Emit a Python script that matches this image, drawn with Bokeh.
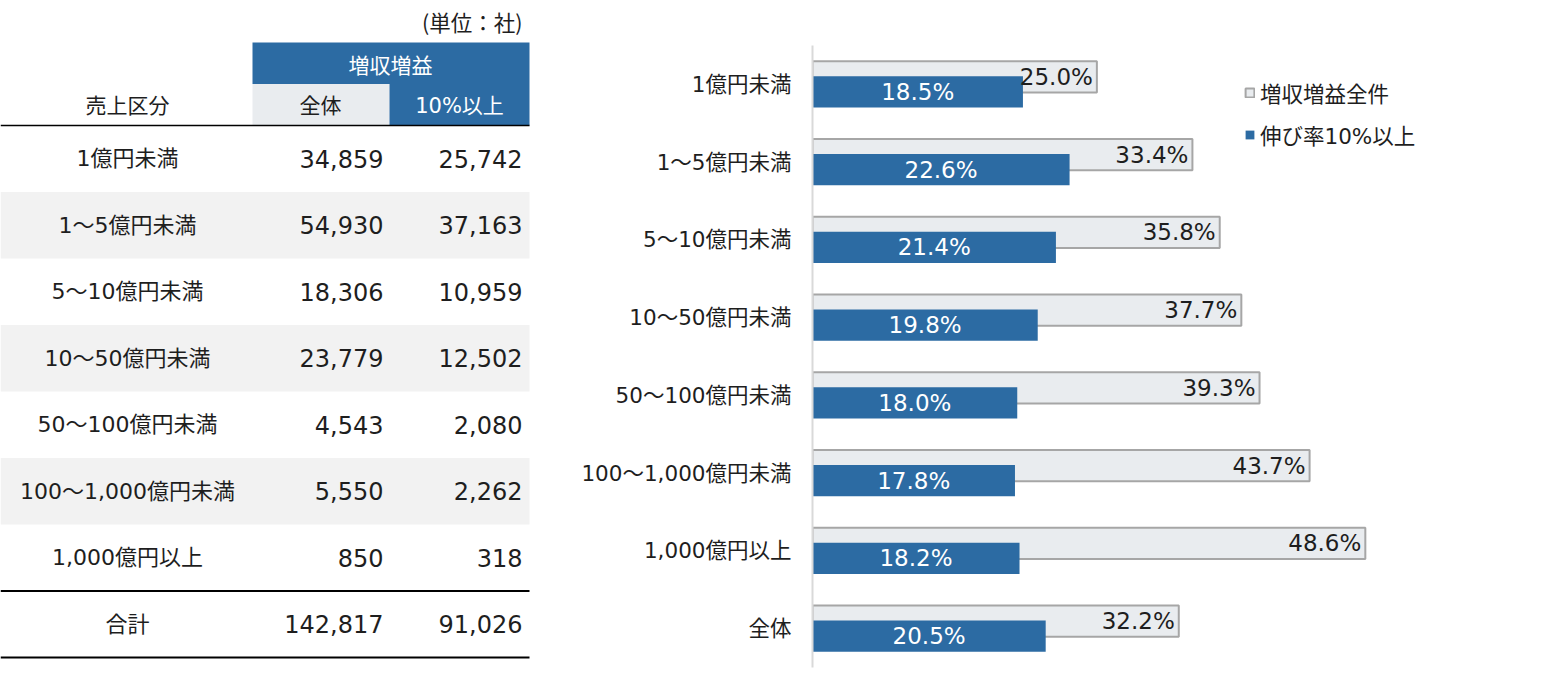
from bokeh.plotting import figure
from bokeh.models import ColumnDataSource, Range1d, Legend, LegendItem, FixedTicker
from bokeh.transform import dodge
from bokeh.layouts import row
from bokeh.embed import file_html
from bokeh.resources import INLINE
from bokeh.core.properties import value

CJK = "Noto Sans CJK JP"
MIX = "DejaVu Sans, Noto Sans CJK JP"
NUM = "DejaVu Sans"
BLUE = "#2c6ba3"
LIGHT = "#e9ecef"
TXT = "#1e1e1e"

# ---------------- data ----------------
categories = ["1億円未満", "1～5億円未満", "5～10億円未満", "10～50億円未満",
              "50～100億円未満", "100～1,000億円未満", "1,000億円以上"]
total_label = "合計"
count_all = [34859, 54930, 18306, 23779, 4543, 5550, 850]
count_10 = [25742, 37163, 10959, 12502, 2080, 2262, 318]
total_all = 142817
total_10 = 91026

bar_categories = categories + ["全体"]
rate_all = [25.0, 33.4, 35.8, 37.7, 39.3, 43.7, 48.6, 32.2]
rate_10 = [18.5, 22.6, 21.4, 19.8, 18.0, 17.8, 18.2, 20.5]

series_names = ["増収増益全件", "伸び率10%以上"]
unit_label = "(単位：社)"
header_top = "増収増益"
header_cols = ["売上区分", "全体", "10%以上"]

FIG_H = 683

# ---------------- table ----------------
TOP = 125.0
RH = 66.5
t = figure(width=560, height=FIG_H, x_range=Range1d(0, 560), y_range=Range1d(FIG_H, 0),
           output_backend="svg", toolbar_location=None, min_border=0)
t.axis.visible = False
t.grid.visible = False
t.outline_line_color = None

n = len(categories) + 1
tops = [TOP + RH * i for i in range(n)]
stripe_idx = [i for i in range(len(categories)) if i % 2 == 1]
t.quad(left=0, right=529, top=[tops[i] for i in stripe_idx],
       bottom=[tops[i] + RH for i in stripe_idx], fill_color="#f2f2f2", line_color=None)

# header blocks
t.quad(left=[252, 252, 389], right=[529, 389, 529], top=[42, 83.5, 83.5], bottom=[83.5, 125, 125],
       fill_color=[BLUE, LIGHT, BLUE], line_color=None)

t.text(x=[390], y=[63], text=[header_top], text_color="white", text_align="center",
       text_baseline="middle", text_font=value(CJK), text_font_size="21px")
t.text(x=[127, 320, 459], y=[105, 105, 105], text=header_cols,
       text_color=[TXT, TXT, "white"], text_align="center", text_baseline="middle",
       text_font=value(MIX), text_font_size="21px")
t.text(x=[522], y=[21], text=[unit_label], text_color=TXT, text_align="right",
       text_baseline="middle", text_font=value(CJK), text_font_size="21.5px")

# rule lines
t.segment(x0=[0, 0, 0], x1=[529, 529, 529], y0=[125, 590.5, 657], y1=[125, 590.5, 657],
          line_color="black", line_width=[1.5, 2, 2])

labels = categories + [total_label]
vals_all = count_all + [total_all]
vals_10 = count_10 + [total_10]
centers = [tp + RH / 2 for tp in tops]
src = ColumnDataSource(dict(
    y=centers, lab=labels,
    a=[f"{v:,}" for v in vals_all],
    b=[f"{v:,}" for v in vals_10],
))
t.text(x=127, y="y", text="lab", source=src, text_align="center", text_baseline="middle",
       text_color=TXT, text_font=value(MIX), text_font_size="22px")
t.text(x=383, y="y", text="a", source=src, text_align="right", text_baseline="middle",
       text_color=TXT, text_font=value(NUM), text_font_size="24px")
t.text(x=522, y="y", text="b", source=src, text_align="right", text_baseline="middle",
       text_color=TXT, text_font=value(NUM), text_font_size="24px")

# ---------------- bar chart ----------------
ROW_PX = 77.75
CAT_TOP_PX = 45
y_top = -CAT_TOP_PX / ROW_PX - 0.5
y_bot = (FIG_H - CAT_TOP_PX) / ROW_PX - 0.5
idx = list(range(len(bar_categories)))

p = figure(width=982, height=FIG_H, y_range=Range1d(y_bot, y_top),
           x_range=Range1d(0, 64), output_backend="svg", toolbar_location=None,
           min_border_left=252, min_border_right=2, min_border_top=0, min_border_bottom=0)
p.xaxis.visible = False
p.grid.visible = False
p.outline_line_color = None
p.yaxis.ticker = FixedTicker(ticks=idx)
p.yaxis.major_label_overrides = {i: c for i, c in zip(idx, bar_categories)}
p.yaxis.bounds = (-0.5, len(bar_categories) - 0.5)
p.yaxis.major_tick_line_color = None
p.yaxis.minor_tick_line_color = None
p.yaxis.axis_line_color = "#d9d9d9"
p.yaxis.axis_line_width = 2
p.yaxis.major_label_standoff = 15
p.yaxis.major_label_text_font = MIX
p.yaxis.major_label_text_font_size = "21.5px"
p.yaxis.major_label_text_color = TXT

bsrc = ColumnDataSource(dict(
    idx=idx, cat=bar_categories, all=rate_all, ten=rate_10,
    half=[v / 2 for v in rate_10],
    all_lab=[f"{v:.1f}%" for v in rate_all],
    ten_lab=[f"{v:.1f}%" for v in rate_10],
))
OFF = 0.097
r1 = p.hbar(y=dodge("idx", -OFF), left=0, right="all", height=0.4, source=bsrc,
            fill_color=LIGHT, line_color="#a6a6a6", line_width=2)
r2 = p.hbar(y=dodge("idx", OFF), left=0, right="ten", height=0.4, source=bsrc,
            fill_color=BLUE, line_color=None)
p.text(x="all", y=dodge("idx", -OFF), text="all_lab", source=bsrc,
       x_offset=-4, text_align="right", text_baseline="middle", text_color=TXT,
       text_font=value(NUM), text_font_size="23px")
p.text(x="half", y=dodge("idx", OFF), text="ten_lab", source=bsrc,
       text_align="center", text_baseline="middle", text_color="white",
       text_font=value(NUM), text_font_size="23px")

legend = Legend(items=[LegendItem(label=series_names[0], renderers=[r1]),
                       LegendItem(label=series_names[1], renderers=[r2])],
                location=(432, 533), orientation="vertical")
legend.background_fill_alpha = 0
legend.border_line_color = None
legend.padding = 0
legend.margin = 0
legend.glyph_width = 11
legend.glyph_height = 11
legend.label_height = 29
legend.spacing = 11
legend.label_standoff = 5
legend.label_text_font = MIX
legend.label_text_font_size = "21.5px"
legend.label_text_color = TXT
legend.label_text_baseline = "middle"
p.add_layout(legend)

layout = row(t, p, spacing=0)
open("out.html", "w").write(file_html(layout, INLINE))
